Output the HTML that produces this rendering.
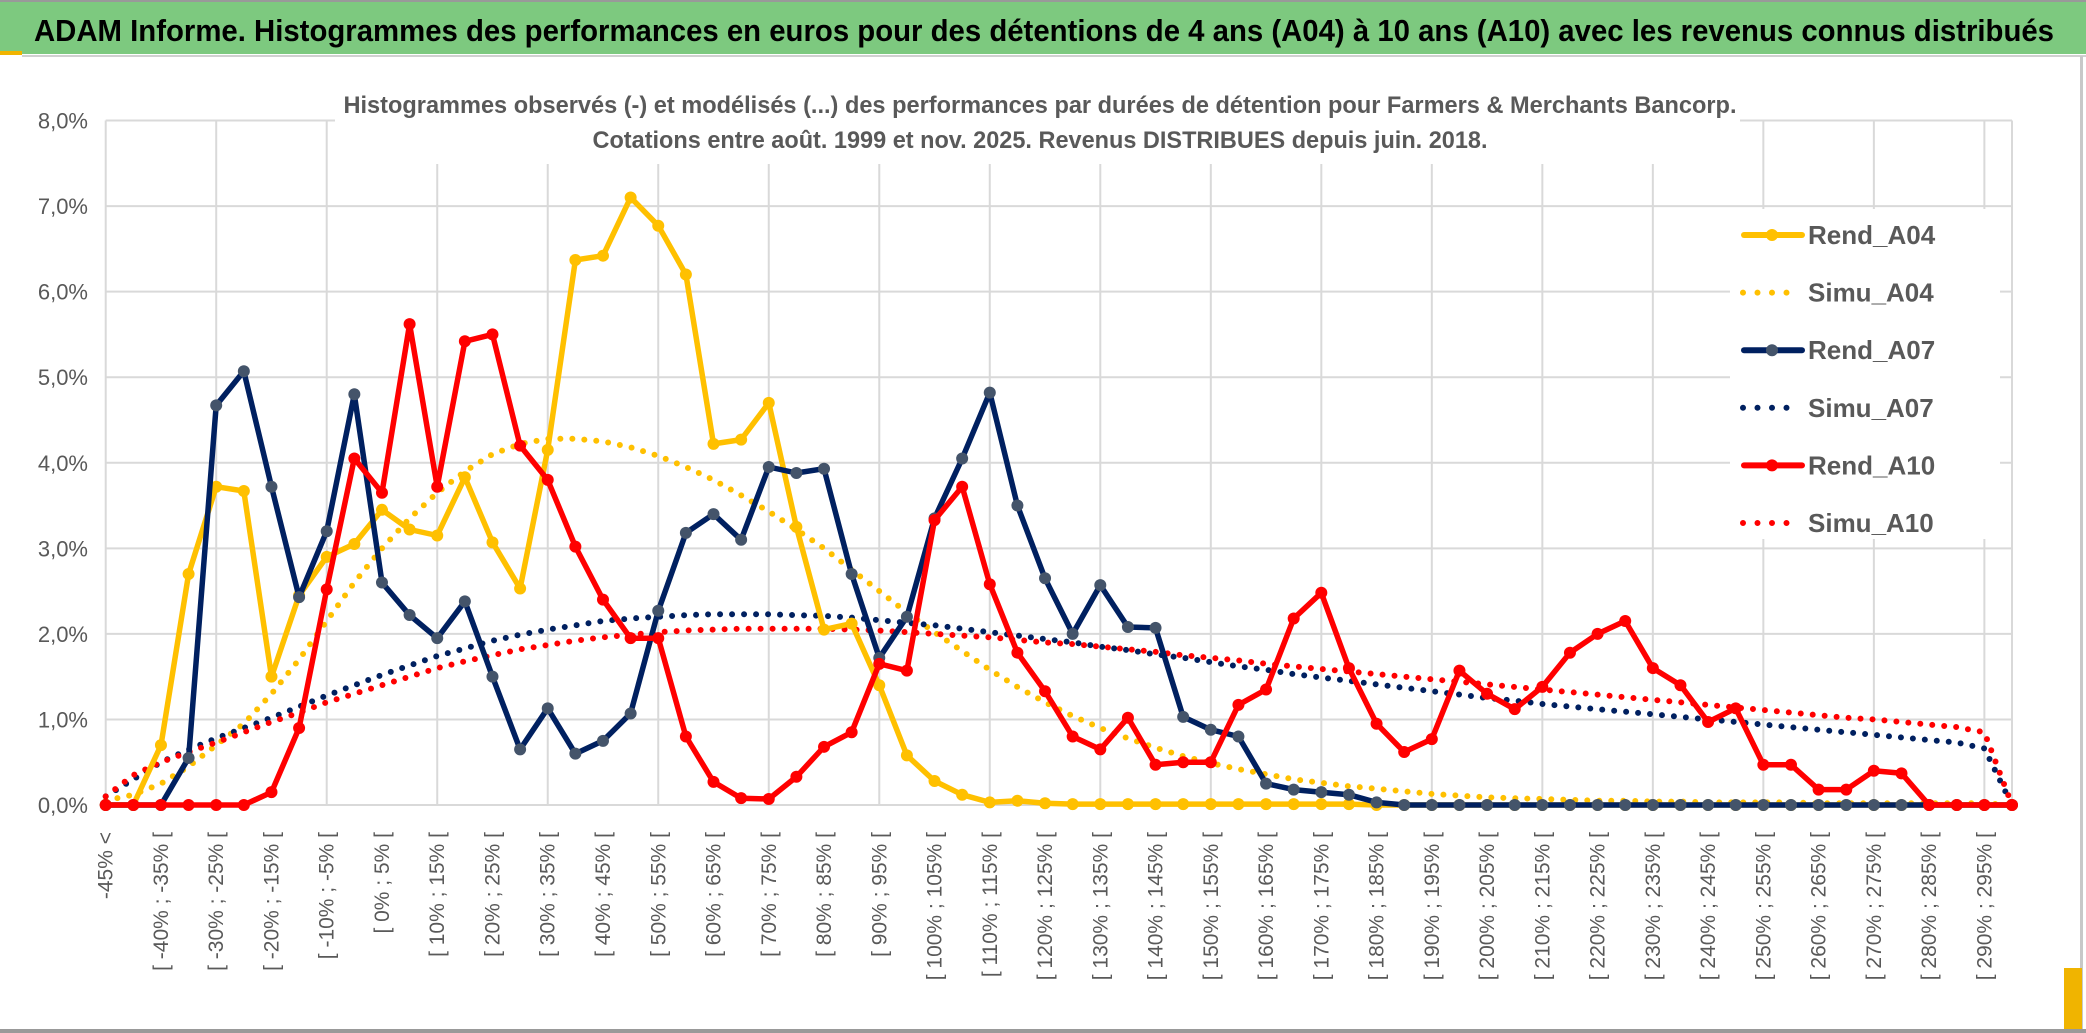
<!DOCTYPE html>
<html><head><meta charset="utf-8"><style>
html,body{margin:0;padding:0;background:#fff;}
svg{display:block;font-family:"Liberation Sans",sans-serif;}
</style></head><body>
<svg id="chart" width="2086" height="1033" viewBox="0 0 2086 1033" xmlns="http://www.w3.org/2000/svg">
<rect x="0" y="0" width="2086" height="1033" fill="#fff"/>
<rect x="0" y="0" width="2086" height="54" fill="#7DC97F"/>
<line x1="0" y1="1" x2="2086" y2="1" stroke="#999" stroke-width="2"/>
<rect x="0" y="51" width="22" height="4" fill="#F0B400"/>
<line x1="22" y1="56" x2="2086" y2="56" stroke="#d0d0d0" stroke-width="2"/>
<text x="34" y="41" font-size="31" font-weight="bold" fill="#000" textLength="2020" lengthAdjust="spacingAndGlyphs">ADAM Informe. Histogrammes des performances en euros pour des détentions de 4 ans (A04) à 10 ans (A10) avec les revenus connus distribués</text>
<rect x="2080" y="56" width="3" height="975" fill="#c8c8c8"/>
<rect x="2064" y="968" width="18" height="63" fill="#F0B400"/>
<rect x="0" y="1029" width="2086" height="4" fill="#999"/>
<g id="grid"></g>
<rect x="335" y="60" width="1405" height="104" fill="#fff"/>
<text x="1040" y="113" font-size="24" font-weight="bold" fill="#595959" text-anchor="middle" textLength="1393" lengthAdjust="spacingAndGlyphs">Histogrammes observés (-) et modélisés (...) des performances par durées de détention pour Farmers &amp; Merchants Bancorp.</text>
<text x="1040" y="148" font-size="24" font-weight="bold" fill="#595959" text-anchor="middle" textLength="895" lengthAdjust="spacingAndGlyphs">Cotations entre août. 1999 et nov. 2025. Revenus DISTRIBUES depuis juin. 2018.</text>
<g id="axes"></g>
<g id="series"></g>
<g id="legend"></g>
</svg>
<script>
const categories = ["-45% <"];
for (let i = 1; i < 70; i++) { const a = -45 + 5 * (i - 1); categories.push("[ " + a + "% ; " + (a + 5) + "% ["); }
const yTicks = [0,1,2,3,4,5,6,7,8];
const yTickLabels = ["0,0%","1,0%","2,0%","3,0%","4,0%","5,0%","6,0%","7,0%","8,0%"];
const rendA04 = [0,0,0.7,2.7,3.72,3.67,1.5,2.45,2.9,3.05,3.45,3.22,3.15,3.83,3.07,2.53,4.15,6.37,6.42,7.1,6.77,6.2,4.22,4.27,4.7,3.25,2.05,2.12,1.4,0.58,0.28,0.12,0.03,0.05,0.02,0.01,0.01,0.01,0.01,0.01,0.01,0.01,0.01,0.01,0.01,0.01,0,0,0,0,0,0,0,0,0,0,0,0,0,0,0,0,0,0,0,0,0,0,0,0];
const simuA04 = [0.05,0.12,0.25,0.45,0.7,0.95,1.3,1.7,2.15,2.6,3.0,3.35,3.65,3.9,4.1,4.22,4.28,4.28,4.25,4.18,4.08,3.95,3.8,3.62,3.43,3.22,3.0,2.75,2.5,2.25,2.02,1.8,1.58,1.38,1.2,1.04,0.9,0.78,0.67,0.57,0.49,0.42,0.36,0.3,0.26,0.22,0.19,0.16,0.13,0.11,0.09,0.08,0.07,0.06,0.05,0.05,0.04,0.04,0.03,0.03,0.03,0.03,0.02,0.02,0.02,0.02,0.02,0.02,0.02,0];
const rendA07 = [0,0,0,0.55,4.67,5.07,3.72,2.43,3.2,4.8,2.6,2.22,1.95,2.38,1.5,0.65,1.13,0.6,0.75,1.07,2.27,3.18,3.4,3.1,3.95,3.88,3.93,2.7,1.72,2.2,3.35,4.05,4.82,3.5,2.65,2.0,2.57,2.08,2.07,1.03,0.88,0.8,0.25,0.18,0.15,0.12,0.03,0,0,0,0,0,0,0,0,0,0,0,0,0,0,0,0,0,0,0,0,0,0,0];
const simuA07 = [0.1,0.3,0.5,0.65,0.78,0.9,1.02,1.15,1.28,1.4,1.52,1.63,1.74,1.83,1.92,1.99,2.05,2.1,2.15,2.18,2.2,2.22,2.23,2.23,2.23,2.22,2.21,2.19,2.16,2.13,2.1,2.06,2.02,1.98,1.94,1.9,1.85,1.81,1.76,1.72,1.67,1.62,1.58,1.53,1.49,1.45,1.41,1.37,1.33,1.29,1.25,1.22,1.18,1.15,1.12,1.09,1.06,1.03,1.0,0.97,0.94,0.91,0.88,0.85,0.82,0.79,0.76,0.73,0.66,0];
const rendA10 = [0,0,0,0,0,0,0.15,0.9,2.52,4.05,3.65,5.62,3.72,5.42,5.5,4.2,3.8,3.02,2.4,1.95,1.95,0.8,0.27,0.08,0.07,0.33,0.68,0.85,1.65,1.57,3.33,3.72,2.58,1.78,1.33,0.8,0.65,1.02,0.47,0.5,0.5,1.17,1.35,2.18,2.48,1.6,0.95,0.62,0.77,1.57,1.3,1.12,1.38,1.78,2.0,2.15,1.6,1.4,0.97,1.13,0.47,0.47,0.18,0.18,0.4,0.37,0,0,0,0];
const simuA10 = [0.1,0.35,0.5,0.62,0.73,0.85,0.97,1.08,1.2,1.3,1.4,1.5,1.6,1.68,1.75,1.82,1.87,1.92,1.96,1.99,2.02,2.04,2.05,2.06,2.06,2.06,2.06,2.05,2.04,2.02,2.0,1.98,1.96,1.93,1.9,1.88,1.85,1.82,1.79,1.75,1.72,1.69,1.65,1.62,1.59,1.56,1.53,1.5,1.47,1.44,1.41,1.38,1.35,1.32,1.29,1.26,1.23,1.2,1.17,1.14,1.11,1.08,1.05,1.02,1.0,0.97,0.94,0.91,0.85,0];

const NS = "http://www.w3.org/2000/svg";
const X0 = 105.7, X1 = 2012, Y0 = 805, Y8 = 120.5;
const xScale = i => X0 + i * (X1 - X0) / (categories.length - 1);
const yScale = v => Y0 - v * (Y0 - Y8) / 8;
function mk(tag, attrs, parent) { const e = document.createElementNS(NS, tag); for (const k in attrs) e.setAttribute(k, attrs[k]); parent.appendChild(e); return e; }

const grid = document.getElementById("grid");
yTicks.forEach(t => {
  const l = mk("line", {x1: X0, x2: X1, y1: yScale(t), y2: yScale(t), stroke: "#d9d9d9", "stroke-width": 2}, grid);
  
  
});
for (let i = 0; i < categories.length; i += 4) {
  const l = mk("line", {x1: xScale(i), x2: xScale(i), y1: Y8, y2: Y0, stroke: "#d9d9d9", "stroke-width": 2}, grid);
  
  
}
mk("line", {x1: X1, x2: X1, y1: Y8, y2: Y0, stroke: "#d9d9d9", "stroke-width": 2}, grid);

const axes = document.getElementById("axes");
yTicks.forEach((t, k) => {
  const tx = mk("text", {x: 88, y: yScale(t) + 8, "font-size": 22, fill: "#595959", "text-anchor": "end"}, axes);
  tx.textContent = yTickLabels[k];
  
  
});
for (let i = 0; i < categories.length; i += 2) {
  const x = xScale(i) + 7, y = 832;
  const tx = mk("text", {x: x, y: y, "font-size": 21, fill: "#595959", "text-anchor": "end", transform: "rotate(-90 " + x + " " + y + ")"}, axes);
  tx.textContent = categories[i];
  
  
}

const series = document.getElementById("series");
function pts(arr) { return arr.map((v, i) => xScale(i).toFixed(1) + "," + yScale(v).toFixed(1)).join(" "); }
function dotted(arr, color, name) {
  const p = mk("polyline", {points: pts(arr), fill: "none", stroke: color, "stroke-width": 6, "stroke-linecap": "round", "stroke-dasharray": "0 12"}, series);
  
  
}
function solid(arr, color, mcolor, name) {
  const g = mk("g", {}, series);
  
  
  mk("polyline", {points: pts(arr), fill: "none", stroke: color, "stroke-width": 5.5, "stroke-linejoin": "round"}, g);
  arr.forEach((v, i) => {
    const c = mk("circle", {cx: xScale(i), cy: yScale(v), r: 6, fill: mcolor}, g);
    
    
  });
}
dotted(simuA04, "#FFC000", "simu-a04-line");
dotted(simuA07, "#002060", "simu-a07-line");
dotted(simuA10, "#FF0000", "simu-a10-line");
solid(rendA04, "#FFC000", "#FFC000", "rend-a04-line");
solid(rendA07, "#002060", "#44546A", "rend-a07-line");
solid(rendA10, "#FF0000", "#FF0000", "rend-a10-line");

const legend = document.getElementById("legend");
mk("rect", {x: 1730, y: 209, width: 270, height: 330, fill: "#fff"}, legend);
const legendItems = [["Rend_A04","#FFC000","#FFC000",false],["Simu_A04","#FFC000","",true],["Rend_A07","#002060","#44546A",false],["Simu_A07","#002060","",true],["Rend_A10","#FF0000","#FF0000",false],["Simu_A10","#FF0000","",true]];
legendItems.forEach((it, k) => {
  const y = 235 + k * 57.6;
  const g = mk("g", {}, legend);
  
  
  if (it[3]) {
    mk("line", {x1: 1743, x2: 1800, y1: y, y2: y, stroke: it[1], "stroke-width": 6, "stroke-linecap": "round", "stroke-dasharray": "0 14.5"}, g);
  } else {
    mk("line", {x1: 1744, x2: 1802, y1: y, y2: y, stroke: it[1], "stroke-width": 6, "stroke-linecap": "round"}, g);
    mk("circle", {cx: 1772, cy: y, r: 6, fill: it[2]}, g);
  }
  const t = mk("text", {x: 1808, y: y + 9, "font-size": 26, "font-weight": "bold", fill: "#595959"}, g);
  t.textContent = it[0];
});
</script>
</body></html>
